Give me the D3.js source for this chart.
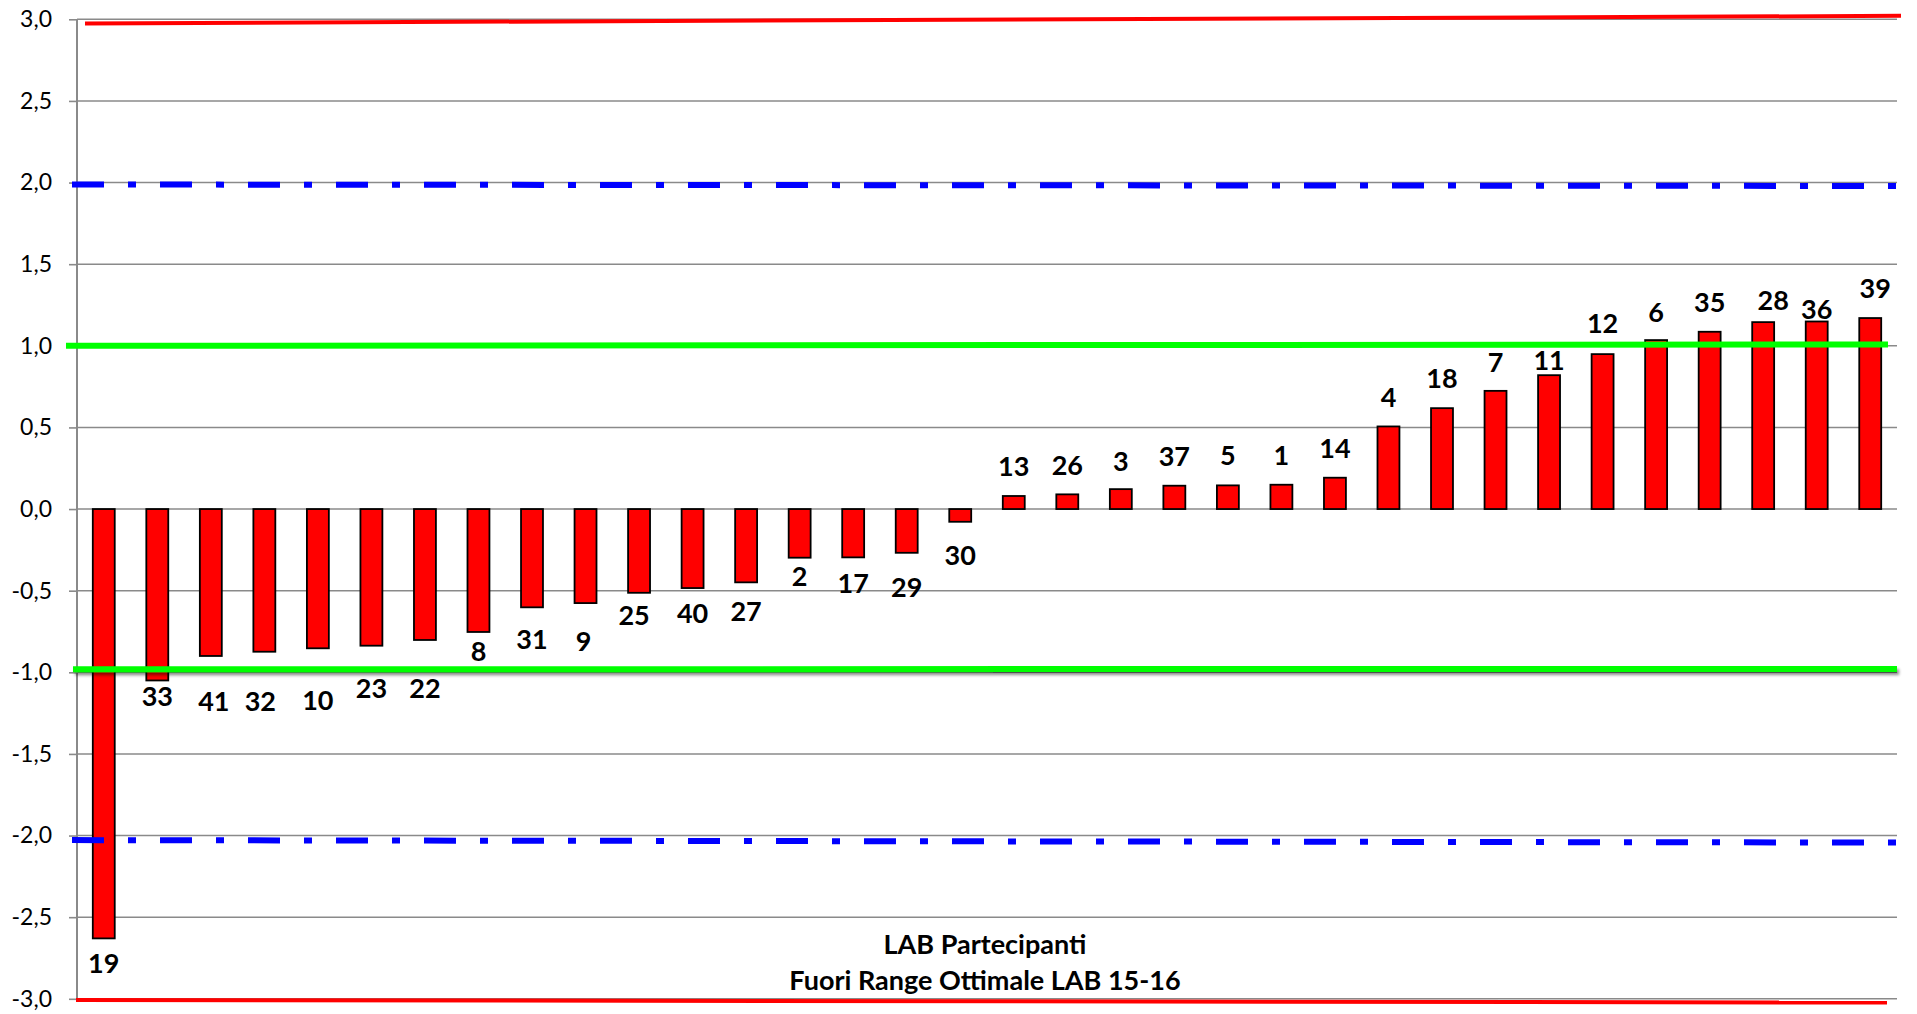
<!DOCTYPE html>
<html>
<head>
<meta charset="utf-8">
<script src="https://cdn.jsdelivr.net/npm/d3@7"></script>
<style>
  html, body { margin: 0; padding: 0; background: #ffffff; }
  svg { display: block; }
  text { font-family: Lato, "Noto Sans", sans-serif; fill: #000; }
</style>
</head>
<body>
<svg id="chart" width="1917" height="1014"></svg>
<script>
// Participating labs, sorted by score
const categories = ["19","33","41","32","10","23","22","8","31","9","25","40","27","2","17","29","30",
                    "13","26","3","37","5","1","14","4","18","7","11","12","6","35","28","36","39"];
const values = [-2.63, -1.05, -0.90, -0.874, -0.853, -0.837, -0.802, -0.753, -0.602, -0.576, -0.513,
                -0.484, -0.449, -0.298, -0.296, -0.268, -0.078, 0.080, 0.090, 0.122, 0.143, 0.145,
                0.149, 0.192, 0.506, 0.618, 0.724, 0.820, 0.949, 1.035, 1.086, 1.145, 1.149, 1.170];

// Value-axis ticks
const yTicks = [-3, -2.5, -2, -1.5, -1, -0.5, 0, 0.5, 1, 1.5, 2, 2.5, 3];

// Limit lines: value at the left end and at the right end
const redLimits   = [[2.975, 3.021], [-3.007, -3.023]];
const blueLimits  = [[1.988, 1.979], [-2.028, -2.043]];
const greenLimits = [[1.000, 1.008], [-0.981, -0.980]];

const titleLines = ["LAB Partecipanti", "Fuori Range Ottimale LAB 15-16"];

// Hand-placed label nudges (px) relative to the default outside-end spot
const labelDx = [0, 0, 3, -4, 0, 0, 0, 0, 0, -2, -5, 0, 0, 0, 0, 0, 0,
                 0, 0, 0, 0, 0, 0, 0, 0, 0, 0, 0, 0, 0, 0, 10, 0, 5];
const labelDy = [-4, -13, 16, 21, 23, 14, 19, -10, 3, 9, -7, -4, 0, -10, -3, 5, 4,
                 -1, 0, 1, 0, -1, 0, 0, 0, -1, 0, 14, -2, 1, 0, 7, 17, -1];

const svg = d3.select("#chart");
const plot = { left: 77, right: 1897, top: 19.3, bottom: 998.8 };

const x = d3.scaleBand()
  .domain(categories)
  .range([plot.left, plot.right])
  .paddingInner(0.59)
  .paddingOuter(0.295);

const y = d3.scaleLinear().domain([-3, 3]).range([plot.bottom, plot.top]);

const fmt = d3.formatLocale({ decimal: ",", thousands: ".", grouping: [3], currency: ["", "€"], minus: "-" }).format(".1f");

// Gridlines
svg.append("g")
  .selectAll("line")
  .data(yTicks)
  .join("line")
  .attr("x1", plot.left).attr("x2", plot.right)
  .attr("y1", d => y(d)).attr("y2", d => y(d))
  .attr("stroke", "#8a8a8a").attr("stroke-width", 1.6);

// Value axis
const yAxis = svg.append("g")
  .attr("transform", `translate(${plot.left},0)`)
  .call(d3.axisLeft(y).tickValues(yTicks).tickSize(8).tickPadding(17).tickFormat(d => fmt(d)));
yAxis.select(".domain").attr("stroke", "#8a8a8a").attr("stroke-width", 2).attr("d", `M0,${plot.top}V${plot.bottom}`);
yAxis.selectAll(".tick line").attr("stroke", "#8a8a8a").attr("stroke-width", 1.6);
yAxis.selectAll(".tick text")
  .attr("font-family", "Lato, 'Noto Sans', sans-serif")
  .attr("font-size", 23)
  .attr("fill", "#000");

// Bars
svg.append("g")
  .selectAll("rect")
  .data(values)
  .join("rect")
  .attr("x", (d, i) => x(categories[i]))
  .attr("width", x.bandwidth())
  .attr("y", d => y(Math.max(0, d)))
  .attr("height", d => Math.abs(y(d) - y(0)))
  .attr("fill", "#ff0000")
  .attr("stroke", "#000")
  .attr("stroke-width", 1.8);

// Shadow for the lower optimal-range line
const defs = svg.append("defs");
const f = defs.append("filter").attr("id", "shadow")
  .attr("filterUnits", "userSpaceOnUse")
  .attr("x", 0).attr("y", 0).attr("width", 1917).attr("height", 1014);
f.append("feDropShadow").attr("dx", 2).attr("dy", 3).attr("stdDeviation", 1.6)
  .attr("flood-color", "#000").attr("flood-opacity", 0.45);

// Red limit lines (±3)
const redExtent = [[plot.left + 8, plot.right + 4], [plot.left - 1, plot.right - 10]];
svg.append("g")
  .selectAll("line")
  .data(redLimits)
  .join("line")
  .attr("x1", (d, i) => redExtent[i][0]).attr("x2", (d, i) => redExtent[i][1])
  .attr("y1", d => y(d[0])).attr("y2", d => y(d[1]))
  .attr("stroke", "#ff0000").attr("stroke-width", 4);

// Blue dash-dot limit lines (±2)
svg.append("g")
  .selectAll("line")
  .data(blueLimits)
  .join("line")
  .attr("x1", plot.left - 5).attr("x2", plot.right)
  .attr("y1", d => y(d[0])).attr("y2", d => y(d[1]))
  .attr("stroke", "#0000ff").attr("stroke-width", 6)
  .attr("stroke-dasharray", "32,24,8,24");

// Green optimal-range lines (±1)
const greenExtent = [[plot.left - 11, plot.right - 9], [plot.left - 4, plot.right]];
svg.append("g")
  .selectAll("line")
  .data(greenLimits)
  .join("line")
  .attr("x1", (d, i) => greenExtent[i][0]).attr("x2", (d, i) => greenExtent[i][1])
  .attr("y1", d => y(d[0])).attr("y2", d => y(d[1]))
  .attr("stroke", "#00ff00").attr("stroke-width", 6)
  .attr("filter", (d, i) => i === 1 ? "url(#shadow)" : null);

// Lab number labels at the end of each bar
const labelSize = 27;
svg.append("g")
  .selectAll("text")
  .data(values)
  .join("text")
  .attr("text-anchor", "middle")
  .attr("font-size", labelSize)
  .attr("font-weight", "bold")
  .attr("x", (d, i) => x(categories[i]) + x.bandwidth() / 2 + labelDx[i])
  .attr("y", (d, i) => y(d) + (d < 0 ? 29 : -29) + labelDy[i] + labelSize * 0.36)
  .text((d, i) => categories[i]);

// Caption inside the plot
const cx = (plot.left + plot.right) / 2 - 2;
svg.append("g")
  .selectAll("text")
  .data(titleLines)
  .join("text")
  .attr("text-anchor", "middle")
  .attr("font-size", 27)
  .attr("font-weight", "bold")
  .attr("x", cx)
  .attr("y", (d, i) => plot.bottom - 45 + i * 36)
  .text(d => d);
</script>
</body>
</html>
